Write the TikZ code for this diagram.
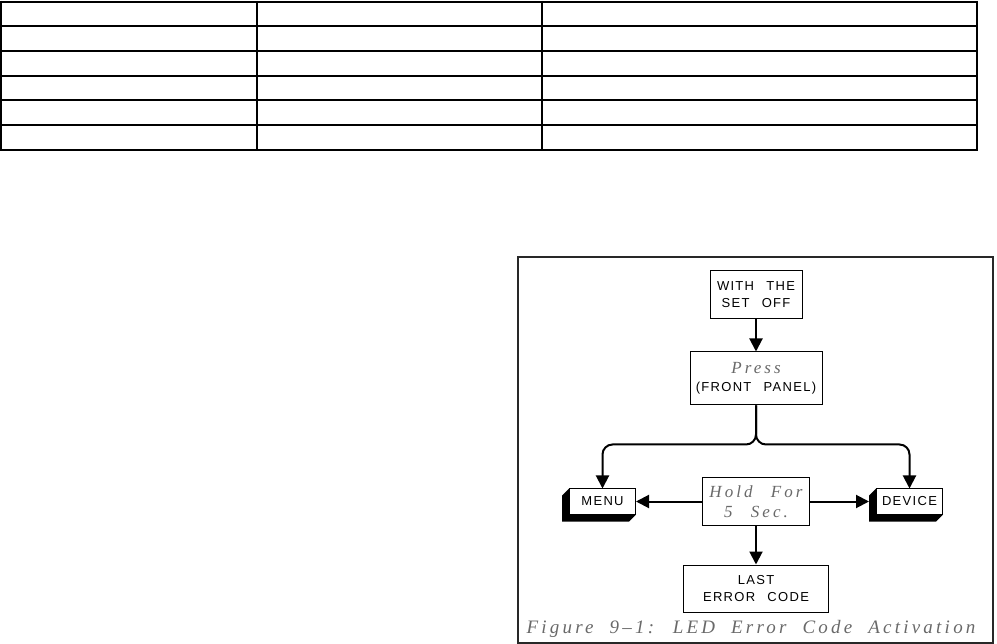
\documentclass[tikz,border=0pt]{standalone}
\usepackage{fontspec}
\usetikzlibrary{arrows.meta, positioning}
\usepackage{xcolor}
\newfontfamily\capsfont[LetterSpace=10,WordSpace=2.5]{Liberation Sans}
\newfontfamily\handfont[LetterSpace=18,WordSpace=2.5]{Liberation Serif}
\newfontfamily\capfont[LetterSpace=17,WordSpace=2]{Liberation Serif}
\definecolor{ledgray}{RGB}{105,105,105}
\definecolor{ledframe}{RGB}{40,40,40}
\tikzset{
    box/.style={draw, line width=1pt, fill=white, align=center, inner sep=1pt,
                font=\capsfont\fontsize{13}{17}\selectfont},
    keybox/.style={box, minimum width=66pt, minimum height=25pt},
    hand/.style={font=\handfont\itshape\fontsize{17}{20}\selectfont, text=ledgray},
    arrow/.style={-{Triangle[length=13pt,width=13pt]}, line width=2pt},
    rule/.style={line width=2pt},
}
% solid edge on the lower left of a key
\newcommand\extrude[1]{%
    \fill (#1.north west) -- ++(-7,7) -- ([shift={(-7,7)}]#1.south west)
        -- ([shift={(-7,7)}]#1.south east) -- (#1.south east) -- (#1.south west) -- cycle;}
\begin{document}
\begin{tikzpicture}[x=1pt, y=-1pt]
    \useasboundingbox (0,0) rectangle (997,644);
    % empty table
    \foreach \r in {0,...,6}
        \draw[rule] (1,{1.7+24.7*\r}) -- (977.7,{1.7+24.7*\r});
    \foreach \c in {1.3,256.7,542,976.7}
        \draw[rule] (\c,1) -- (\c,151.5);
    % figure frame
    \draw[line width=2.5pt, ledframe] (518,257) rectangle (993,643);
    \node[box, minimum width=92pt, minimum height=48pt] (off) at (756,295) {WITH THE\\SET OFF};
    \node[box, minimum width=132pt, minimum height=53pt, below=32pt of off] (press)
        {{\handfont\itshape\fontsize{17}{20}\selectfont\color{ledgray}Press}\\[1pt](FRONT PANEL)};
    \node[box, hand, minimum width=107pt, minimum height=47pt, below=72pt of press] (hold) {Hold For\\5 Sec.};
    \node[box, minimum width=145pt, minimum height=47pt, below=39pt of hold] (last) {LAST\\ERROR CODE};
    \node[keybox, left=66pt of hold] (menu) {MENU};
    \node[keybox, right=66pt of hold] (device) {DEVICE};
    \extrude{menu}
    \extrude{device}
    \draw[arrow] (off) -- (press);
    \draw[arrow, rounded corners=10pt] (press.south) -- ++(0,39) -| (menu.north);
    \draw[arrow, rounded corners=10pt] (press.south) -- ++(0,39) -| (device.north);
    \draw[arrow] (hold) -- (menu);
    \draw[arrow] (hold) -- ([xshift=-7pt]device.west);
    \draw[arrow] (hold) -- (last);
    \node[font=\capfont\itshape\fontsize{19}{20}\selectfont, text=ledgray, anchor=base] (caption) at (751,633)
        {Figure 9–1: LED Error Code Activation};
\end{tikzpicture}
\end{document}
